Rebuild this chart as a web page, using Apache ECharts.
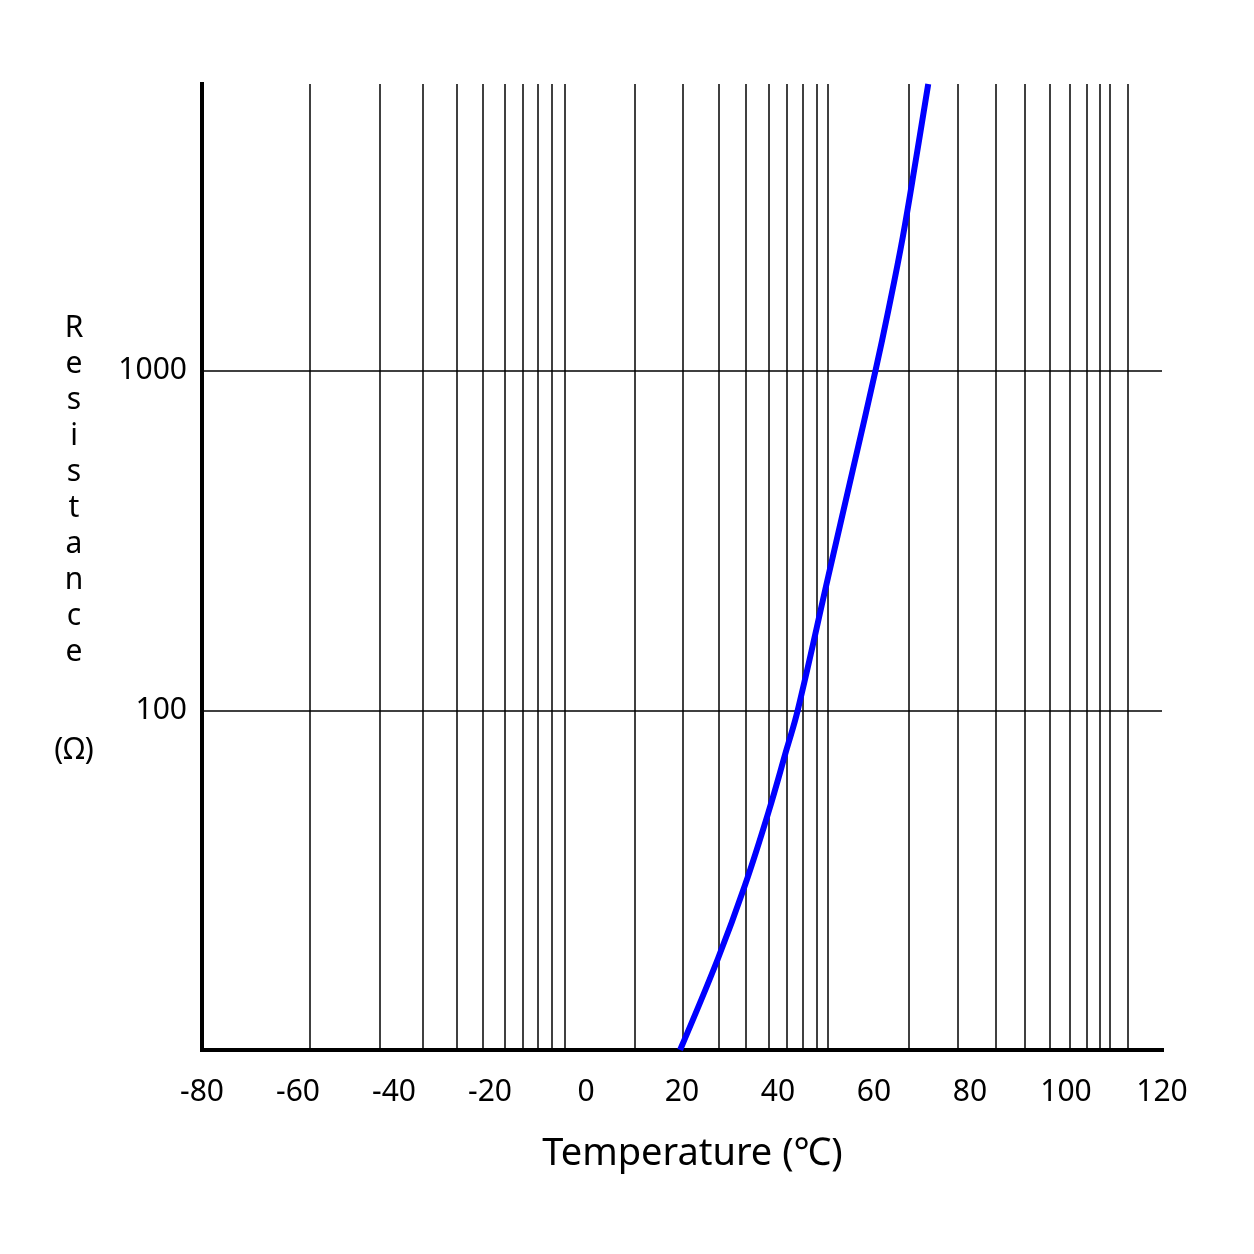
<!DOCTYPE html>
<html>
<head>
<meta charset="utf-8">
<title>Resistance vs Temperature</title>
<script src="https://cdn.jsdelivr.net/npm/echarts@6/dist/echarts.min.js"></script>
<style>
  html, body { margin: 0; padding: 0; background: #fff; }
  #chart { width: 1254px; height: 1254px; }
</style>
</head>
<body>
<div id="chart"></div>
<script>
// curve readings: temperature (degC) and resistance (ohm)
var temps = [19.6, 27.5, 33.1, 38.0, 41.8, 44.1, 50.5, 55.6, 60.3, 63.0, 66.0, 68.7, 71.3];
var resist = [10, 18.6, 30.5, 50.1, 76.9, 100, 249, 512, 1000, 1511, 2481, 4170, 7000];

// vertical grid lines (temperatures) and horizontal grid lines (resistances)
var gridTemps = [-57.6, -42.9, -34.0, -26.9, -21.5, -17.0, -13.2, -10.1, -7.2, -4.4,
  10.2, 20.2, 27.6, 33.3, 38.0, 41.9, 45.1, 48.0, 50.4,
  67.3, 77.4, 85.3, 91.5, 96.6, 100.8, 104.4, 107.0, 109.2, 112.8];
var gridRes = [100, 1000];
var resLabels = [100, 1000];

var chart = echarts.init(document.getElementById('chart'));

var curve = temps.map(function (t, i) {
  return [t, resist[i]];
});

var marks = gridTemps.map(function (t) {
  return { xAxis: t };
}).concat(gridRes.map(function (r) {
  return { yAxis: r };
}));

var font = 'Noto Sans, Noto Sans CJK SC, sans-serif';

var option = {
  animation: false,
  backgroundColor: '#fff',
  grid: {
    left: 202,
    right: 92,
    top: 84,
    bottom: 204
  },
  xAxis: {
    type: 'value',
    min: -80,
    max: 120,
    interval: 20,
    name: 'Temperature (℃)',
    nameLocation: 'middle',
    nameGap: 104,
    nameTextStyle: {
      color: '#000',
      fontSize: 38,
      fontFamily: font,
      verticalAlign: 'middle',
      padding: [0, 0, 0, 21]
    },
    axisLine: {
      onZero: false,
      lineStyle: { color: '#000', width: 4, cap: 'square' }
    },
    axisTick: { show: false },
    splitLine: { show: false },
    axisLabel: {
      color: '#000',
      fontSize: 30,
      fontFamily: font,
      margin: 27
    }
  },
  yAxis: {
    type: 'log',
    logBase: 10,
    min: 10,
    max: 7000,
    name: 'R\ne\ns\ni\ns\nt\na\nn\nc\ne\n{gap|}\n(Ω)',
    nameLocation: 'middle',
    nameRotate: 0,
    nameGap: 128,
    nameTextStyle: {
      color: '#000',
      fontSize: 30,
      fontFamily: font,
      lineHeight: 36,
      align: 'center',
      verticalAlign: 'middle',
      padding: [0, 0, 55, 0],
      rich: {
        gap: { lineHeight: 62, fontSize: 30 }
      }
    },
    axisLine: {
      onZero: false,
      lineStyle: { color: '#000', width: 4, cap: 'square' }
    },
    axisTick: { show: false },
    splitLine: { show: false },
    axisLabel: {
      color: '#000',
      fontSize: 30,
      fontFamily: font,
      margin: 15,
      formatter: function (v) {
        var r = Math.round(v);
        return resLabels.indexOf(r) >= 0 ? String(r) : '';
      }
    }
  },
  series: [
    {
      // grid lines only
      type: 'line',
      data: [],
      z: 1,
      silent: true,
      markLine: {
        silent: true,
        symbol: 'none',
        label: { show: false },
        lineStyle: { color: '#000', width: 1.5, type: 'solid' },
        data: marks
      }
    },
    {
      type: 'line',
      data: curve,
      z: 5,
      smooth: 0.4,
      showSymbol: false,
      lineStyle: { color: '#0000ff', width: 6 }
    }
  ]
};

chart.setOption(option);
</script>
</body>
</html>
